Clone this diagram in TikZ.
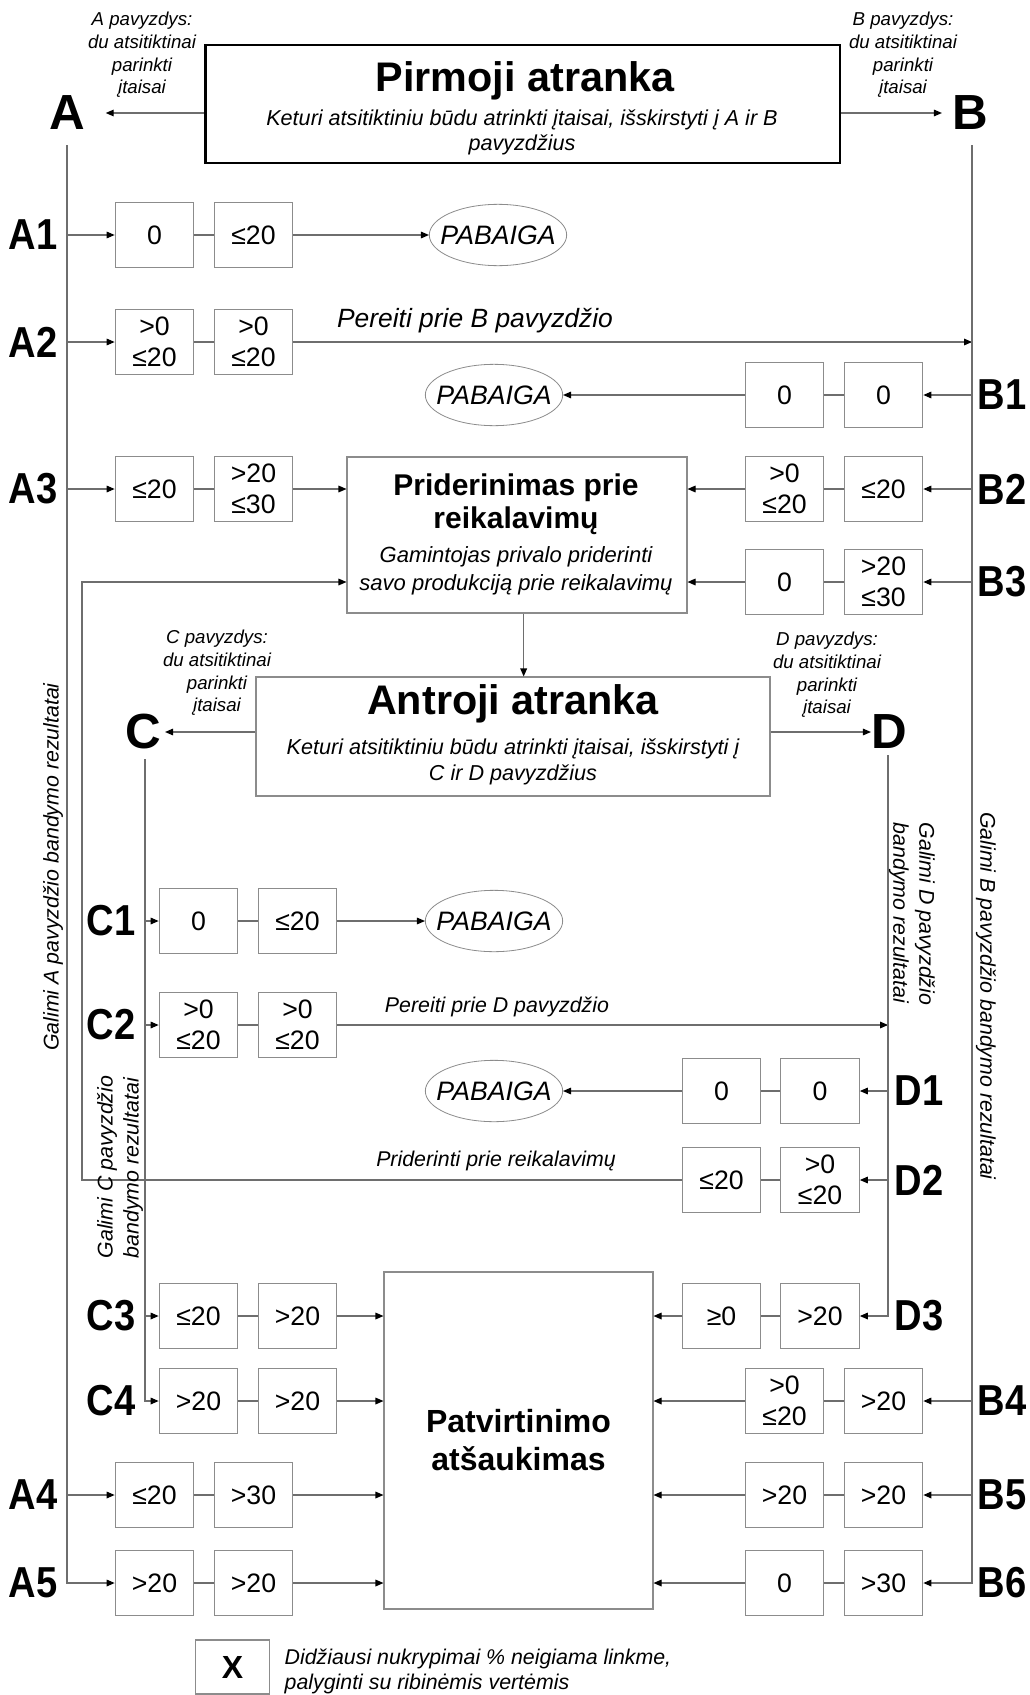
\documentclass[tikz,border=0pt]{standalone}
\usepackage{fontspec}
\setmainfont{Liberation Sans}
\newfontfamily\narrowsf[FakeStretch=0.88]{Liberation Sans}
\usetikzlibrary{arrows.meta,shapes.geometric}
\definecolor{linegray}{RGB}{110,110,110}
\definecolor{boxgray}{RGB}{140,140,140}
\tikzset{
  ln/.style={draw=linegray, line width=0.8pt},
  arr/.style={ln, -{Triangle[length=6pt,width=5pt,color=black]}},
  val/.style={draw=boxgray, line width=0.8pt, minimum width=59pt, minimum height=48.5pt, inner sep=0pt, align=center, font=\fontsize{20}{23}\selectfont},
  fin/.style={ellipse, draw=boxgray, line width=0.6pt, minimum width=103pt, minimum height=46pt, inner xsep=-10pt, inner ysep=0pt, font=\itshape\fontsize{20}{20}\selectfont},
  panel/.style={draw=boxgray, line width=0.8pt},
  topbox/.style={draw=black, line width=2pt, minimum width=476pt, minimum height=88.5pt},
  big/.style={inner sep=0pt, font=\bfseries\fontsize{37}{37}\selectfont},
  row/.style={inner sep=0pt, font=\narrowsf\bfseries\fontsize{32.5}{32.5}\selectfont},
  ttl/.style={font=\bfseries\fontsize{31}{31}\selectfont},
  sub/.style={align=center, font=\itshape\fontsize{16.2}{19}\selectfont},
  head/.style={align=center, font=\bfseries\fontsize{22.5}{25}\selectfont},
  psub/.style={align=center, font=\itshape\fontsize{16.5}{21}\selectfont},
  note/.style={align=center, font=\itshape\fontsize{14}{17}\selectfont},
  lbl/.style={font=\itshape\fontsize{19.8}{22}\selectfont},
  lbl2/.style={font=\itshape\fontsize{16}{19}\selectfont},
  rot/.style={font=\itshape\fontsize{16}{19.5}\selectfont},
  legend/.style={align=left, font=\itshape\fontsize{16}{18.75}\selectfont},
}
\begin{document}
\begin{tikzpicture}[x=0.75pt,y=-0.75pt]
\path[use as bounding box, fill=white] (0,0) rectangle (1030,1695);

% pirmoji atranka
\node[topbox] (top) at (522.5,104) {};
\node[ttl] (topttl) at (525,81) {Pirmoji atranka};
\node[sub] (topsub) at (522,132.5) {Keturi atsitiktiniu būdu atrinkti įtaisai, išskirstyti į A ir B\\pavyzdžius};
\node[big] (A) at (67,113) {A};
\node[big] (B) at (970,113) {B};
\node[note] (na) at (142,55) {A pavyzdys:\\du atsitiktinai\\parinkti\\įtaisai};
\node[note] (nb) at (903,55) {B pavyzdys:\\du atsitiktinai\\parinkti\\įtaisai};
\coordinate (atop) at (67,145);
\coordinate (btop) at (972,145);
\draw[arr] (top.west |- A) -- ([xshift=15.5pt]A.east);
\draw[arr] (top.east |- B) -- ([xshift=-7.5pt]B.west);

% A1
\node[row] (lA1) at (33,235) {A1};
\node[val] (A1a) at (154.5,235) {0};
\node[val] (A1b) at (253.5,235) {≤20};
\node[fin] (fin1) at (498,235) {PABAIGA};
\draw[arr] (atop |- A1a) -- (A1a);
\draw[ln] (A1a) -- (A1b);
\draw[arr] (A1b) -- (fin1);

% A2
\node[row] (lA2) at (33,342) {A2};
\node[val] (A2a) at (154.5,342) {>0\\≤20};
\node[val] (A2b) at (253.5,342) {>0\\≤20};
\node[lbl] (goB) at (475,321) {Pereiti prie B pavyzdžio};
\draw[arr] (atop |- A2a) -- (A2a);
\draw[ln] (A2a) -- (A2b);
\draw[arr] (A2b) -- (A2b -| btop);

% B1
\node[row] (lB1) at (1002,395) {B1};
\node[val] (B1a) at (784.5,395) {0};
\node[val] (B1b) at (883.5,395) {0};
\node[fin] (fin2) at (494,395) {PABAIGA};
\draw[arr] (btop |- B1b) -- (B1b);
\draw[ln] (B1b) -- (B1a);
\draw[arr] (B1a) -- (fin2);

% priderinimas
\node[panel, minimum width=255pt, minimum height=117pt] (prid) at (517,535) {};
\node[head] (pridttl) at (516,504) {Priderinimas prie\\reikalavimų};
\node[psub] (pridsub) at (516,571) {Gamintojas privalo priderinti\\savo produkciją prie reikalavimų};

% A3, B2
\node[row] (lA3) at (33,489) {A3};
\node[val] (A3a) at (154.5,489) {≤20};
\node[val] (A3b) at (253.5,489) {>20\\≤30};
\draw[arr] (atop |- A3a) -- (A3a);
\draw[ln] (A3a) -- (A3b);
\draw[arr] (A3b) -- (A3b -| prid.west);
\node[row] (lB2) at (1002,489) {B2};
\node[val] (B2a) at (784.5,489) {>0\\≤20};
\node[val] (B2b) at (883.5,489) {≤20};
\draw[arr] (btop |- B2b) -- (B2b);
\draw[ln] (B2b) -- (B2a);
\draw[arr] (B2a) -- (B2a -| prid.east);

% B3
\node[row] (lB3) at (1002,582) {B3};
\node[val] (B3a) at (784.5,582) {0};
\node[val] (B3b) at (883.5,582) {>20\\≤30};
\draw[arr] (btop |- B3b) -- (B3b);
\draw[ln] (B3b) -- (B3a);
\draw[arr] (B3a) -- (B3a -| prid.east);

% antroji atranka
\node[panel, minimum width=385.5pt, minimum height=89.25pt] (sec) at (513,736.5) {};
\node[ttl] (secttl) at (513,704) {Antroji atranka};
\node[sub] (secsub) at (513,762) {Keturi atsitiktiniu būdu atrinkti įtaisai, išskirstyti į\\C ir D pavyzdžius};
\draw[arr] ([xshift=5pt]prid.south) -- ([xshift=5pt]prid.south |- sec.north);
\node[big] (C) at (143,732) {C};
\node[big] (D) at (889,732) {D};
\node[note] (nc) at (217,673) {C pavyzdys:\\du atsitiktinai\\parinkti\\įtaisai};
\node[note] (nd) at (827,675) {D pavyzdys:\\du atsitiktinai\\parinkti\\įtaisai};
\coordinate (ctop) at (145,759);
\coordinate (dtop) at (888,755);
\draw[arr] (sec.west |- C) -- ([xshift=3pt]C.east);
\draw[arr] (sec.east |- D) -- (D.west);

% C1
\node[row] (lC1) at (111,921) {C1};
\node[val] (C1a) at (198.5,921) {0};
\node[val] (C1b) at (297.5,921) {≤20};
\node[fin] (fin3) at (494,921) {PABAIGA};
\draw[arr] (ctop |- C1a) -- (C1a);
\draw[ln] (C1a) -- (C1b);
\draw[arr] (C1b) -- (fin3);

% C2
\node[row] (lC2) at (111,1025) {C2};
\node[val] (C2a) at (198.5,1025) {>0\\≤20};
\node[val] (C2b) at (297.5,1025) {>0\\≤20};
\node[lbl2] (goD) at (497,1007) {Pereiti prie D pavyzdžio};
\draw[arr] (ctop |- C2a) -- (C2a);
\draw[ln] (C2a) -- (C2b);
\draw[arr] (C2b) -- (C2b -| dtop);

% D1
\node[row] (lD1) at (919,1091) {D1};
\node[val] (D1a) at (721.5,1091) {0};
\node[val] (D1b) at (820,1091) {0};
\node[fin] (fin4) at (494,1091) {PABAIGA};
\draw[arr] (dtop |- D1b) -- (D1b);
\draw[ln] (D1b) -- (D1a);
\draw[arr] (D1a) -- (fin4);

% D2
\node[row] (lD2) at (919,1180) {D2};
\node[val] (D2a) at (721.5,1180) {≤20};
\node[val] (D2b) at (820,1180) {>0\\≤20};
\node[lbl2] (back) at (496,1161) {Priderinti prie reikalavimų};
\coordinate (loop) at (82,582);
\draw[arr] (dtop |- D2b) -- (D2b);
\draw[ln] (D2b) -- (D2a);
\draw[arr] (D2a) -| (loop) -- (loop -| prid.west);

% patvirtinimo atsaukimas
\node[panel, minimum width=201.75pt, minimum height=252.75pt] (patv) at (518.5,1440.5) {};
\node[head, font=\bfseries\fontsize{24}{29}\selectfont] (patvttl) at (518.5,1440) {Patvirtinimo\\atšaukimas};

% C3, D3
\node[row] (lC3) at (111,1316) {C3};
\node[val] (C3a) at (198.5,1316) {≤20};
\node[val] (C3b) at (297.5,1316) {>20};
\draw[arr] (ctop |- C3a) -- (C3a);
\draw[ln] (C3a) -- (C3b);
\draw[arr] (C3b) -- (C3b -| patv.west);
\node[row] (lD3) at (919,1316) {D3};
\node[val] (D3a) at (721.5,1316) {≥0};
\node[val] (D3b) at (820,1316) {>20};
\draw[ln] (D3b) -- (D3a);
\draw[arr] (D3a) -- (D3a -| patv.east);

% C4, B4
\node[row] (lC4) at (111,1401) {C4};
\node[val] (C4a) at (198.5,1401) {>20};
\node[val] (C4b) at (297.5,1401) {>20};
\draw[ln] (C4a) -- (C4b);
\draw[arr] (C4b) -- (C4b -| patv.west);
\node[row] (lB4) at (1002,1401) {B4};
\node[val] (B4a) at (784.5,1401) {>0\\≤20};
\node[val] (B4b) at (883.5,1401) {>20};
\draw[arr] (btop |- B4b) -- (B4b);
\draw[ln] (B4b) -- (B4a);
\draw[arr] (B4a) -- (B4a -| patv.east);

% A4, B5
\node[row] (lA4) at (33,1495) {A4};
\node[val] (A4a) at (154.5,1495) {≤20};
\node[val] (A4b) at (253.5,1495) {>30};
\draw[arr] (atop |- A4a) -- (A4a);
\draw[ln] (A4a) -- (A4b);
\draw[arr] (A4b) -- (A4b -| patv.west);
\node[row] (lB5) at (1002,1495) {B5};
\node[val] (B5a) at (784.5,1495) {>20};
\node[val] (B5b) at (883.5,1495) {>20};
\draw[arr] (btop |- B5b) -- (B5b);
\draw[ln] (B5b) -- (B5a);
\draw[arr] (B5a) -- (B5a -| patv.east);

% A5, B6
\node[row] (lA5) at (33,1583) {A5};
\node[val] (A5a) at (154.5,1583) {>20};
\node[val] (A5b) at (253.5,1583) {>20};
\draw[ln] (A5a) -- (A5b);
\draw[arr] (A5b) -- (A5b -| patv.west);
\node[row] (lB6) at (1002,1583) {B6};
\node[val] (B6a) at (784.5,1583) {0};
\node[val] (B6b) at (883.5,1583) {>30};
\draw[ln] (B6b) -- (B6a);
\draw[arr] (B6a) -- (B6a -| patv.east);

% trunks
\draw[arr] (atop) |- (A5a);
\draw[arr] (btop) |- (B6b);
\draw[arr] (ctop) |- (C4a);
\draw[arr] (dtop) |- (D3b);

% rezultatai
\node[rot, rotate=90] (resA) at (53,867) {Galimi A pavyzdžio bandymo rezultatai};
\node[rot, rotate=-90] (resB) at (986,996) {Galimi B pavyzdžio bandymo rezultatai};
\node[rot, rotate=-90, align=left] (resD) at (912,914) {Galimi D pavyzdžio\\bandymo rezultatai};
\node[rot, rotate=90, align=left] (resC) at (120,1167) {Galimi C pavyzdžio\\bandymo rezultatai};

% legenda
\node[val, minimum width=56pt, minimum height=40.5pt, font=\bfseries\fontsize{24}{24}\selectfont] (key) at (232.5,1667) {X};
\node[legend, anchor=west] (keytxt) at (280,1671) {Didžiausi nukrypimai \% neigiama linkme,\\palyginti su ribinėmis vertėmis};
\end{tikzpicture}
\end{document}
